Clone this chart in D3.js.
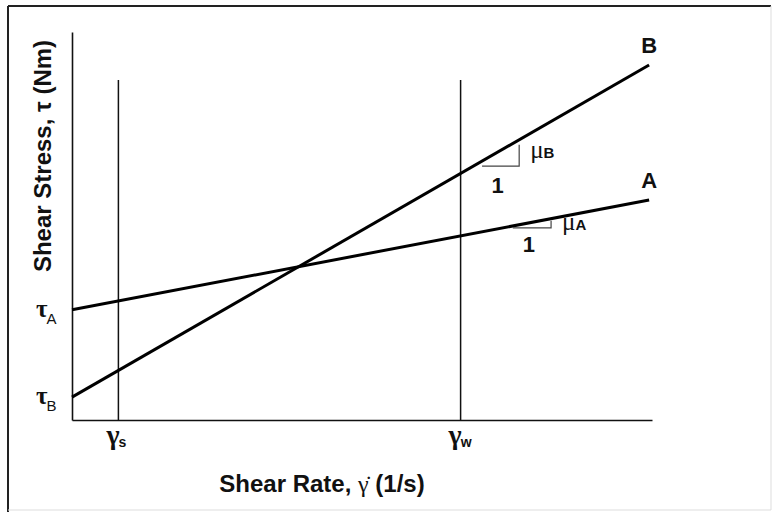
<!DOCTYPE html>
<html>
<head>
<meta charset="utf-8">
<script src="https://cdn.jsdelivr.net/npm/d3@7"></script>
<style>
  body { margin: 0; background: #fff; }
  text { font-family: "Liberation Sans", Arial, sans-serif; fill: #111; }
  .serif { font-family: "Liberation Serif", "Times New Roman", serif; }
</style>
</head>
<body>
<div id="chart"></div>
<script>
// ---- data (arbitrary units) ----
var lineNames = ["A", "B"];
var lineStart = [2.84, 0.59];   // tau at gamma = 0
var lineEnd = [5.67, 9.15];     // tau at gamma = 9.95
var xEndValue = 9.95;

var markNames = ["s", "w"];     // gamma_s, gamma_w
var markValues = [0.8, 6.7];
var markTop = 8.76;

// slope triangles: start gamma and run length
var triStart = [7.6, 7.07];
var triRun = [0.66, 0.64];

// ---- layout ----
var svgWidth = 773;
var svgHeight = 512;
var margin = { top: 32, right: 121, bottom: 92, left: 72 };
var width = svgWidth - margin.left - margin.right;
var height = svgHeight - margin.top - margin.bottom;

// small pixel nudges for the hand-drawn triangles and their "1" labels
var triDrop = [2, 5];
var oneDy = [26, 32];

var svg = d3.select("#chart").append("svg")
  .attr("width", svgWidth)
  .attr("height", svgHeight);

// outer frame
svg.append("line").attr("x1", 8).attr("y1", 6).attr("x2", 771).attr("y2", 6)
  .attr("stroke", "#222").attr("stroke-width", 2);
svg.append("line").attr("x1", 8).attr("y1", 6).attr("x2", 8).attr("y2", 512)
  .attr("stroke", "#222").attr("stroke-width", 2);
svg.append("line").attr("x1", 771).attr("y1", 6).attr("x2", 771).attr("y2", 510)
  .attr("stroke", "#ddd").attr("stroke-width", 1);
svg.append("line").attr("x1", 8).attr("y1", 510).attr("x2", 771).attr("y2", 510)
  .attr("stroke", "#ddd").attr("stroke-width", 1);

var chartGroup = svg.append("g")
  .attr("transform", `translate(${margin.left}, ${margin.top})`);

var x = d3.scaleLinear().domain([0, 10]).range([0, width]);
var y = d3.scaleLinear().domain([0, 10]).range([height, 0]);

// axes (plain lines, no ticks)
chartGroup.append("g")
  .attr("transform", `translate(0, ${height})`)
  .call(d3.axisBottom(x).tickValues([]).tickSizeOuter(0))
  .select(".domain").attr("stroke", "#111").attr("stroke-width", 1.6);
chartGroup.append("g")
  .call(d3.axisLeft(y).tickValues([]).tickSizeOuter(0))
  .select(".domain").attr("stroke", "#111").attr("stroke-width", 1.6);

// vertical marker lines
chartGroup.selectAll(".mark")
  .data(markValues)
  .enter().append("line")
  .attr("class", "mark")
  .attr("x1", d => x(d)).attr("x2", d => x(d))
  .attr("y1", y(markTop)).attr("y2", y(0))
  .attr("stroke", "#111").attr("stroke-width", 1.5);

// marker labels
markNames.forEach(function(name, i) {
  var t = chartGroup.append("text")
    .attr("x", x(markValues[i]) - 12)
    .attr("y", height + 24)
    .attr("font-size", 28)
    .attr("text-anchor", "start");
  t.append("tspan").attr("class", "serif").attr("font-weight", "bold").text("γ");
  t.append("tspan").attr("font-size", 14).attr("font-weight", "bold")
    .attr("dx", -1).attr("dy", 3).text(name);
});

// lines A, B
var lineFn = d3.line().x(d => x(d[0])).y(d => y(d[1]));
lineNames.forEach(function(name, i) {
  chartGroup.append("path")
    .datum([[0, lineStart[i]], [xEndValue, lineEnd[i]]])
    .attr("d", lineFn)
    .attr("fill", "none")
    .attr("stroke", "#000")
    .attr("stroke-width", 3);

  chartGroup.append("text")
    .attr("x", x(xEndValue))
    .attr("y", y(lineEnd[i]) - 12)
    .attr("text-anchor", "middle")
    .attr("font-size", 22)
    .attr("font-weight", "bold")
    .text(name);

  // intercept label tau_name
  var t = chartGroup.append("text")
    .attr("x", -36)
    .attr("y", y(lineStart[i]) + 7)
    .attr("font-size", 25);
  t.append("tspan").attr("class", "serif").attr("font-weight", "bold").text("τ");
  t.append("tspan").attr("font-size", 15).attr("dx", -1).attr("dy", 7).text(name);

  // slope triangle
  var slope = (lineEnd[i] - lineStart[i]) / xEndValue;
  var x0 = triStart[i], x1 = triStart[i] + triRun[i];
  var y0 = lineStart[i] + slope * x0;
  var y1 = lineStart[i] + slope * x1;
  chartGroup.append("path")
    .datum([[x0, y0], [x1, y0], [x1, y1]])
    .attr("d", lineFn)
    .attr("transform", `translate(0, ${triDrop[i]})`)
    .attr("fill", "none")
    .attr("stroke", "#444")
    .attr("stroke-width", 1.2);

  chartGroup.append("text")
    .attr("x", x(x0 + triRun[i] / 2) - 3)
    .attr("y", y(y0) + oneDy[i])
    .attr("text-anchor", "middle")
    .attr("font-size", 22)
    .attr("font-weight", "bold")
    .text("1");

  var mu = chartGroup.append("text")
    .attr("x", x(x1) + 11)
    .attr("y", y((y0 + y1) / 2) + 8)
    .attr("font-size", 25);
  mu.append("tspan").attr("class", "serif").text("μ");
  mu.append("tspan").attr("font-size", 15).attr("font-weight", "bold").attr("dy", 0).text(name);
});

// axis titles
var xt = svg.append("text")
  .attr("x", 322)
  .attr("y", 492)
  .attr("text-anchor", "middle")
  .attr("font-size", 24)
  .attr("font-weight", "bold");
xt.append("tspan").text("Shear Rate, ");
xt.append("tspan").attr("class", "serif").attr("font-weight", "normal").text("γ\u0307");
xt.append("tspan").text(" (1/s)");

svg.append("text")
  .attr("transform", "translate(51, 156) rotate(-90)")
  .attr("text-anchor", "middle")
  .attr("font-size", 24)
  .attr("font-weight", "bold")
  .text("Shear Stress, τ (Nm)");
</script>
</body>
</html>
